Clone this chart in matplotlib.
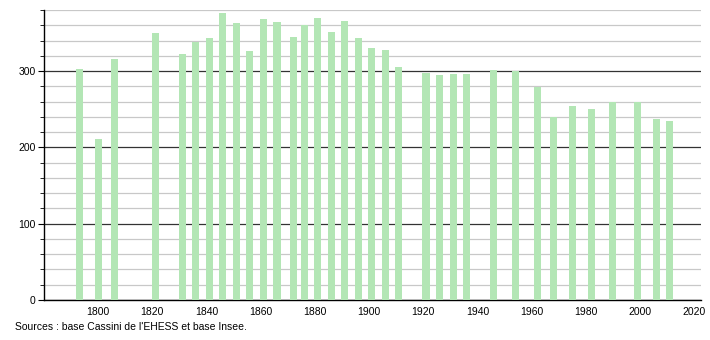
import matplotlib.pyplot as plt
from matplotlib.ticker import MultipleLocator

plt.rcParams['font.family'] = ['Liberation Sans', 'DejaVu Sans']

# population par recensement
years = [1793, 1800, 1806, 1821, 1831, 1836, 1841, 1846, 1851, 1856,
         1861, 1866, 1872, 1876, 1881, 1886, 1891, 1896, 1901, 1906,
         1911, 1921, 1926, 1931, 1936, 1946, 1954, 1962, 1968, 1975,
         1982, 1990, 1999, 2006, 2011]
pop = [303, 211, 316, 350, 322, 338, 343, 376, 363, 326,
       368, 364, 345, 360, 370, 351, 366, 343, 330, 328,
       305, 297, 295, 296, 296, 302, 300, 279, 240, 254,
       250, 260, 260, 237, 234]
xticks = [1800, 1820, 1840, 1860, 1880, 1900, 1920, 1940, 1960, 1980, 2000, 2020]

fig = plt.figure(figsize=(7.1, 3.4), dpi=100)
ax = fig.add_axes([44/710, 40/340, 657/710, 290/340])

ax.bar(years, pop, width=2.6, color='#b3e6b5', zorder=3)

ax.set_xlim(1780, 2022.5)
ax.set_ylim(0, 380)
ax.set_xticks(xticks)
ax.yaxis.set_major_locator(MultipleLocator(100))
ax.yaxis.set_minor_locator(MultipleLocator(20))
ax.grid(axis='y', which='minor', color='#c8c8c8', lw=0.9, zorder=1)
ax.grid(axis='y', which='major', color='#333333', lw=0.9, zorder=2)

for s in ['top', 'right']:
    ax.spines[s].set_visible(False)
ax.spines['left'].set_linewidth(1.0)
ax.spines['bottom'].set_linewidth(1.0)
ax.tick_params(axis='x', length=0, labelsize=7.5, pad=5)
ax.tick_params(axis='y', which='major', length=4, labelsize=7.5, pad=2)
ax.tick_params(axis='y', which='minor', length=3)

fig.text(15/710, 1 - 327/340, "Sources : base Cassini de l'EHESS et base Insee.",
         fontsize=7.5, va='center', ha='left')

fig.savefig('out.png', dpi=100)
